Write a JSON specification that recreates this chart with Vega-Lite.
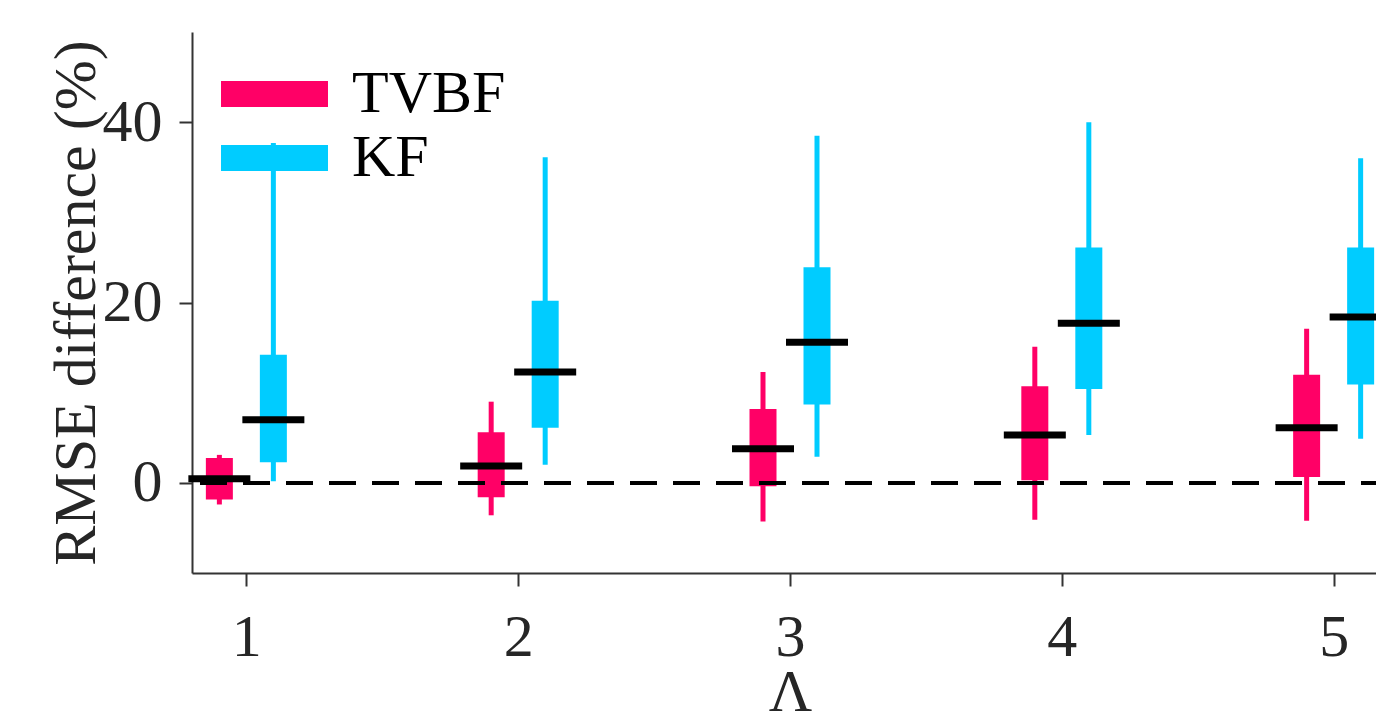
{
  "$schema": "https://vega.github.io/schema/vega-lite/v6.json",
  "width": 1196,
  "height": 541,
  "autosize": {"type": "none"},
  "padding": {"left": 192, "top": 32, "right": 0, "bottom": 140},
  "background": "white",
  "config": {
    "view": {"stroke": null},
    "font": "Liberation Serif",
    "axis": {
      "domainColor": "#333333", "domainWidth": 2,
      "tickColor": "#333333", "tickWidth": 2, "tickSize": 13,
      "labelFont": "Liberation Serif", "labelFontSize": 60, "labelColor": "#262626",
      "titleFont": "Liberation Serif", "titleFontSize": 60, "titleColor": "#262626", "titleFontWeight": "normal",
      "grid": false
    },
    "legend": {
      "title": null,
      "symbolType": "M-4.115,-1H4.115V1H-4.115Z",
      "symbolSize": 676,
      "symbolStrokeWidth": 0,
      "symbolOpacity": 1,
      "labelFont": "Liberation Serif",
      "labelFontSize": 60,
      "labelColor": "black",
      "labelOffset": 47.5,
      "rowPadding": 4
    }
  },
  "data": {"values": [
    {"lam": 1, "method": "TVBF", "lo": -2.4, "q1": -1.84, "med": 0.44, "q3": 2.76, "hi": 3.1},
    {"lam": 1, "method": "KF", "lo": 0.18, "q1": 2.27, "med": 7.0, "q3": 14.2, "hi": 37.7},
    {"lam": 2, "method": "TVBF", "lo": -3.6, "q1": -1.6, "med": 1.88, "q3": 5.6, "hi": 9.0},
    {"lam": 2, "method": "KF", "lo": 2.0, "q1": 6.1, "med": 12.3, "q3": 20.2, "hi": 36.1},
    {"lam": 3, "method": "TVBF", "lo": -4.3, "q1": -0.37, "med": 3.79, "q3": 8.2, "hi": 12.3},
    {"lam": 3, "method": "KF", "lo": 2.9, "q1": 8.7, "med": 15.6, "q3": 23.9, "hi": 38.5},
    {"lam": 4, "method": "TVBF", "lo": -4.1, "q1": 0.3, "med": 5.3, "q3": 10.7, "hi": 15.1},
    {"lam": 4, "method": "KF", "lo": 5.3, "q1": 10.4, "med": 17.7, "q3": 26.1, "hi": 40.0},
    {"lam": 5, "method": "TVBF", "lo": -4.2, "q1": 0.66, "med": 6.1, "q3": 12.0, "hi": 17.1},
    {"lam": 5, "method": "KF", "lo": 4.9, "q1": 10.9, "med": 18.4, "q3": 26.1, "hi": 36.0}
  ]},
  "encoding": {
    "x": {
      "field": "lam", "type": "quantitative",
      "scale": {"domain": [0.8, 5.2], "nice": false, "zero": false, "padding": 0},
      "axis": {"values": [1, 2, 3, 4, 5], "format": "d", "title": "Λ", "labelPadding": 22, "titlePadding": -4, "labelFlush": false}
    }
  },
  "layer": [
    {
      "transform": [{"filter": "datum.method === 'TVBF'"}],
      "mark": {"type": "rule", "strokeWidth": 5, "xOffset": -27},
      "encoding": {
        "y": {"field": "lo", "type": "quantitative", "scale": {"domain": [-10, 50], "nice": false},
              "axis": {"values": [0, 20, 40], "title": "RMSE difference (%)", "labelPadding": 17, "titlePadding": 8, "titleBaseline": "alphabetic"}},
        "y2": {"field": "hi"},
        "color": {"field": "method", "type": "nominal", "scale": {"domain": ["TVBF", "KF"], "range": ["#FF0066", "#00CCFF"]},
                  "legend": {"orient": "none", "legendX": 52.5, "legendY": 32}}
      }
    },
    {
      "transform": [{"filter": "datum.method === 'KF'"}],
      "mark": {"type": "rule", "strokeWidth": 5, "xOffset": 27},
      "encoding": {
        "y": {"field": "lo", "type": "quantitative"},
        "y2": {"field": "hi"},
        "color": {"field": "method", "type": "nominal"}
      }
    },
    {
      "transform": [{"filter": "datum.method === 'TVBF'"}],
      "mark": {"type": "bar", "width": 27, "xOffset": -27},
      "encoding": {
        "y": {"field": "q1", "type": "quantitative"},
        "y2": {"field": "q3"},
        "color": {"field": "method", "type": "nominal"}
      }
    },
    {
      "transform": [{"filter": "datum.method === 'KF'"}],
      "mark": {"type": "bar", "width": 27, "xOffset": 27},
      "encoding": {
        "y": {"field": "q1", "type": "quantitative"},
        "y2": {"field": "q3"},
        "color": {"field": "method", "type": "nominal"}
      }
    },
    {
      "mark": {"type": "rule", "color": "black", "strokeWidth": 3.5, "strokeDash": [27, 16]},
      "encoding": {"x": null, "y": {"datum": 0, "type": "quantitative"}}
    },
    {
      "transform": [{"filter": "datum.method === 'TVBF'"}],
      "mark": {"type": "tick", "orient": "horizontal", "size": 62, "thickness": 7, "color": "black", "xOffset": -27, "opacity": 1},
      "encoding": {"y": {"field": "med", "type": "quantitative"}}
    },
    {
      "transform": [{"filter": "datum.method === 'KF'"}],
      "mark": {"type": "tick", "orient": "horizontal", "size": 62, "thickness": 7, "color": "black", "xOffset": 27, "opacity": 1},
      "encoding": {"y": {"field": "med", "type": "quantitative"}}
    }
  ]
}
